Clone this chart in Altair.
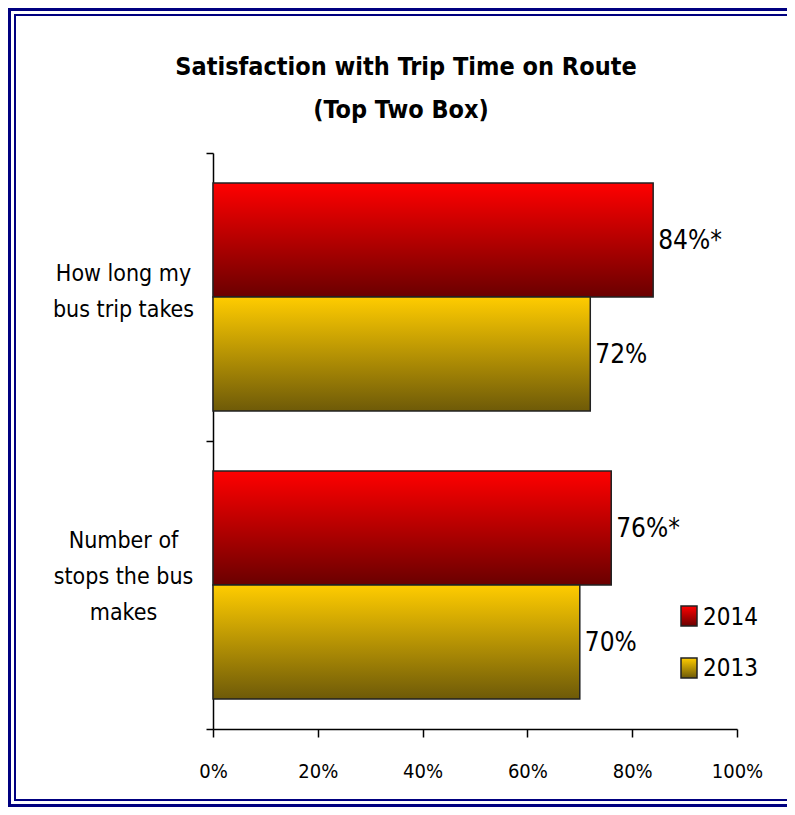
import altair as alt
import pandas as pd

# ---------------- data ----------------
categories = ["How long my\nbus trip takes", "Number of\nstops the bus\nmakes"]
years = ["2014", "2013"]
values_2014 = [84, 76]
values_2013 = [72, 70]
sig_2014 = ["*", "*"]
sig_2013 = ["", ""]
x_ticks = [0, 20, 40, 60, 80, 100]
title_lines = ["Satisfaction with Trip Time on Route", "(Top Two Box)"]

rows = []
for i, c in enumerate(categories):
    rows.append({"cat": c, "year": years[0], "value": values_2014[i],
                 "label": f"{values_2014[i]}%{sig_2014[i]}"})
    rows.append({"cat": c, "year": years[1], "value": values_2013[i],
                 "label": f"{values_2013[i]}%{sig_2013[i]}"})
df = pd.DataFrame(rows)
one = pd.DataFrame({"k": [0]})

FONT = "'DejaVu Sans Condensed', 'DejaVu Sans', sans-serif"
NAVY = "#000080"


def grad(top, bottom):
    return {"gradient": "linear", "x1": 0, "y1": 0, "x2": 0, "y2": 1,
            "stops": [{"offset": 0, "color": top}, {"offset": 1, "color": bottom}]}


red_grad = grad("#FF0000", "#6A0000")
gold_grad = grad("#FFCC00", "#6E5A08")

W, H = 524, 576

x_enc = alt.X("value:Q",
              scale=alt.Scale(domain=[0, 100], nice=False),
              axis=alt.Axis(values=x_ticks, labelExpr="datum.value + '%'", title=None,
                            grid=False, tickSize=8, labelPadding=24, labelFontSize=20,
                            labelFlush=False, labelOverlap=False,
                            labelFont=FONT, labelColor="black", domainColor="black",
                            tickColor="black", domainWidth=1.5, tickWidth=1.5))
y_enc = alt.Y("cat:N", sort=categories,
              scale=alt.Scale(paddingInner=0, paddingOuter=0),
              axis=alt.Axis(title=None, tickBand="extent",
                            labelExpr="split(datum.label, '\\n')",
                            labelAlign="center", labelPadding=83, tickSize=7,
                            labelOffset={"condition": {
                                "test": "length(split(datum.value, '\\n')) == 3",
                                "value": -45}, "value": -24},
                            labelFontSize=23, labelLineHeight=36, labelFont=FONT,
                            labelColor="black", domainColor="black", tickColor="black",
                            domainWidth=1.5, tickWidth=1.5))
yoff = alt.YOffset("year:N", sort=years,
                   scale=alt.Scale(domain=years, paddingInner=0, paddingOuter=0.263))

base = alt.Chart(df).encode(x=x_enc, y=y_enc, yOffset=yoff)

bars14 = base.transform_filter(alt.datum.year == years[0]).mark_bar(
    fill=red_grad, stroke="#222222", strokeWidth=1.5)
bars13 = base.transform_filter(alt.datum.year == years[1]).mark_bar(
    fill=gold_grad, stroke="#222222", strokeWidth=1.5)
labels = base.mark_text(align="left", baseline="middle", dx=5, dy=1, fontSize=26,
                        font=FONT, color="black").encode(text="label:N")

# double navy frame around the whole figure
outer = alt.Chart(one).mark_rect(fillOpacity=0, stroke=NAVY, strokeWidth=3).encode(
    x=alt.value(-203.5), x2=alt.value(900), y=alt.value(-143.5), y2=alt.value(652.5))
inner = alt.Chart(one).mark_rect(fillOpacity=0, stroke=NAVY, strokeWidth=2).encode(
    x=alt.value(-198), x2=alt.value(900), y=alt.value(-138), y2=alt.value(647))

# title (two centred lines)
t1 = alt.Chart(one).mark_text(text=title_lines[0], fontSize=25, fontWeight="bold",
                              font=FONT, align="center", baseline="alphabetic",
                              color="black").encode(x=alt.value(193), y=alt.value(-78))
t2 = alt.Chart(one).mark_text(text=title_lines[1], fontSize=25, fontWeight="bold",
                              font=FONT, align="center", baseline="alphabetic",
                              color="black").encode(x=alt.value(188), y=alt.value(-35))

# legend
leg_r1 = alt.Chart(one).mark_rect(fill=red_grad, stroke="#222222", strokeWidth=1.5).encode(
    x=alt.value(468), x2=alt.value(484), y=alt.value(453), y2=alt.value(473))
leg_r2 = alt.Chart(one).mark_rect(fill=gold_grad, stroke="#222222", strokeWidth=1.5).encode(
    x=alt.value(468), x2=alt.value(484), y=alt.value(505), y2=alt.value(525))
leg_t1 = alt.Chart(one).mark_text(text=years[0], fontSize=24, font=FONT, align="left",
                                  baseline="middle", color="black").encode(
    x=alt.value(490), y=alt.value(465))
leg_t2 = alt.Chart(one).mark_text(text=years[1], fontSize=24, font=FONT, align="left",
                                  baseline="middle", color="black").encode(
    x=alt.value(490), y=alt.value(516))

chart = alt.layer(
    outer, inner, bars14, bars13, labels, t1, t2, leg_r1, leg_r2, leg_t1, leg_t2
).properties(
    width=W, height=H,
    autosize=alt.AutoSizeParams(type="none"),
    padding={"left": 205, "top": 145, "right": 50, "bottom": 78},
    background="white",
).configure_view(stroke=None)

chart.save("out.html", embed_options={"renderer": "svg", "actions": False})
